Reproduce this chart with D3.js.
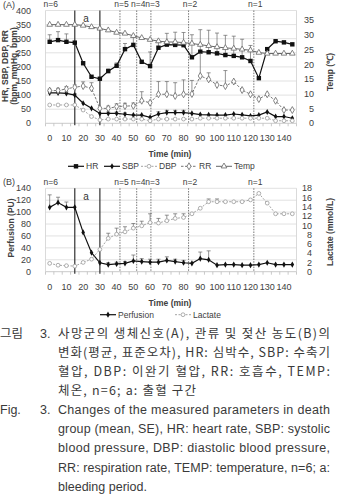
<!DOCTYPE html>
<html>
<head>
<meta charset="utf-8">
<script src="https://cdn.jsdelivr.net/npm/d3@7"></script>
<style>
body { margin: 0; background: #fff; }
svg { display: block; font-family: "Liberation Sans", Arial, sans-serif; }
</style>
</head>
<body>
<svg id="chart" width="338" height="496"></svg>
<script>
// time categories (min)
const times = [0, 5, 10, 15, 20, 25, 30, 35, 40, 45, 50, 55, 60, 65, 70, 75, 80, 85, 90, 95, 100, 105, 110, 115, 120, 125, 130, 135, 140, 145];
const timeTicks = [0, 10, 20, 30, 40, 50, 60, 70, 80, 90, 100, 110, 120, 130, 140];

// panel A
const hr    = [289, 295, 289, 286, 213, 165, 158, 185, 204, 263, 278, 218, 203, 268, 279, 278, 277, 234, 254, 252, 248, 242, 239, 234, 221, 160, 263, 291, 287, 280];
const hrErr = [25, 30, 28, 0, 0, 0, 0, 8, 10, 20, 28, 0, 50, 20, 40, 45, 45, 80, 78, 78, 72, 70, 70, 64, 55, 0, 0, 0, 0, 0];
const sbp    = [108, 108, 106, 100, 71, 53, 35, 35, 35, 32, 29, 29, 21, 33, 38, 38, 38, 35, 31, 30, 29, 29, 33, 30, 26, 29, 40, 24, 24, 18];
const sbpErr = [5, 5, 5, 5, 0, 0, 0, 5, 5, 5, 0, 0, 0, 8, 8, 8, 8, 0, 0, 0, 0, 0, 0, 0, 0, 0, 0, 0, 0, 0];
const dbp = [65, 65, 65, 65, 47, 24, 12, 15, 15, 15, 15, 15, 9, 15, 15, 15, 15, 15, 18, 18, 18, 18, 18, 18, 18, 18, 18, 9, 9, 9];
const rr    = [116, 116, 122, 128, 132, 124, 53, 53, 59, 61, 62, 80, 73, 103, 103, 97, 103, 104, 168, 156, 136, 132, 148, 118, 103, 86, 103, 80, 47, 47];
const rrErr = [5, 8, 8, 8, 15, 20, 0, 8, 10, 10, 10, 32, 0, 45, 45, 47, 51, 48, 80, 23, 0, 55, 0, 0, 0, 0, 0, 0, 0, 0];
const temp = [33.5, 33.5, 33.5, 33.5, 33.2, 32.7, 32.2, 31.6, 30.8, 30.5, 29.7, 29.0, 28.4, 27.9, 27.6, 27.6, 27.4, 27.1, 26.7, 26.3, 25.9, 25.6, 25.4, 25.1, 24.8, 24.0, 23.7, 23.7, 23.7, 23.7];
const leftTicksA = [0, 50, 100, 150, 200, 250, 300, 350, 400];
const rightTicksA = [0, 5, 10, 15, 20, 25, 30, 35];

// panel B
const perfusion    = [108, 116, 108, 108, 66, 32, 15, 12, 13, 14, 18, 17, 16, 16, 19, 17, 15, 14, 22, 20, 11, 12, 12, 11, 11, 12, 15, 12, 12, 12];
const perfusionErr = [21, 9, 9, 0, 0, 0, 0, 3, 3, 3, 10, 5, 5, 5, 6, 4, 4, 0, 11, 15, 0, 0, 0, 0, 0, 0, 0, 0, 0, 0];
const lactate    = [1.8, 1.4, 1.3, 1.2, 2.0, 2.7, 4.8, 7.2, 8.1, 8.6, 9.4, 9.9, 10.6, 10.5, 11.0, 11.5, 11.7, 12.5, 13.7, 15.1, 15.1, 15.1, 15.1, 15.1, 15.5, 16.9, 14.8, 12.5, 12.5, 12.5];
const lactateErr = [0, 0, 0, 0, 0, 0, 0, 1.1, 1.3, 1.1, 1.0, 1.0, 1.9, 1.0, 1.2, 1.0, 0.8, 0, 0, 0.6, 0.6, 0, 0, 0, 0, 0, 0, 0, 0, 0];
const leftTicksB = [0, 20, 40, 60, 80, 100, 120, 140];
const rightTicksB = [0, 2, 4, 6, 8, 10, 12, 14, 16, 18];

// group size changes and bleeding period
const groupTimes = [0, 42, 52, 60.5, 83, 122];
const groupLabels = ["n=6", "n=5", "n=4", "n=3", "n=2", "n=1"];
const bleeding = [15, 30];

// caption
const captionKo = [
  "사망군의 생체신호(A), 관류 및 젖산 농도(B)의",
  "변화(평균, 표준오차), HR: 심박수, SBP: 수축기",
  "혈압, DBP: 이완기 혈압, RR: 호흡수, TEMP:",
  "체온, n=6; a: 출혈 구간"
];
const captionEn = [
  "Changes of the measured parameters in death",
  "group (mean, SE), HR: heart rate, SBP: systolic",
  "blood pressure, DBP: diastolic blood pressure,",
  "RR: respiration rate, TEMP: temperature, n=6; a:",
  "bleeding period."
];

const svg = d3.select("#chart");
const x = d3.scaleLinear().domain([-2.5, 147.5]).range([45.5, 296.5]);

// markers
function drawMarker(g, kind, cx, cy) {
    if (kind === "square") {
        g.append("rect").attr("x", cx - 2.2).attr("y", cy - 2.2).attr("width", 4.4).attr("height", 4.4).attr("fill", "#111");
    } else if (kind === "dot") {
        g.append("path").attr("d", d3.symbol(d3.symbolDiamond, 11)()).attr("transform", `translate(${cx},${cy})`).attr("fill", "#111");
    } else if (kind === "circle") {
        g.append("circle").attr("cx", cx).attr("cy", cy).attr("r", 1.9).attr("fill", "#fff").attr("stroke", "#9a9a9a").attr("stroke-width", 0.8);
    } else if (kind === "diamond") {
        g.append("path").attr("d", d3.symbol(d3.symbolDiamond, 14)()).attr("transform", `translate(${cx},${cy})`)
            .attr("fill", "#fff").attr("stroke", "#666").attr("stroke-width", 0.8);
    } else if (kind === "triangle") {
        g.append("path").attr("d", d3.symbol(d3.symbolTriangle, 14)()).attr("transform", `translate(${cx},${cy})`)
            .attr("fill", "#fff").attr("stroke", "#666").attr("stroke-width", 0.8);
    }
}

function drawPanel(p) {
    const g = svg.append("g");
    const yL = d3.scaleLinear().domain([0, p.leftTicks[p.leftTicks.length - 1]]).range([p.bottom, p.top]);
    const yR = d3.scaleLinear().domain(p.rightDomain).range([p.bottom, p.top]);

    // gridlines
    g.append("g").selectAll("line").data(p.leftTicks).enter().append("line")
        .attr("x1", x.range()[0]).attr("x2", x.range()[1])
        .attr("y1", d => yL(d)).attr("y2", d => yL(d))
        .attr("stroke", d => d === 0 ? "#bdbdbd" : "#d9d9d9").attr("stroke-width", 0.8);
    g.append("line").attr("x1", x.range()[0]).attr("x2", x.range()[0]).attr("y1", p.top).attr("y2", p.bottom).attr("stroke", "#d0d0d0").attr("stroke-width", 0.8);
    g.append("line").attr("x1", x.range()[1]).attr("x2", x.range()[1]).attr("y1", p.top).attr("y2", p.bottom).attr("stroke", "#d0d0d0").attr("stroke-width", 0.8);

    // category tick marks
    g.append("g").selectAll("line").data(times.concat([150])).enter().append("line")
        .attr("x1", d => x(d - 2.5)).attr("x2", d => x(d - 2.5))
        .attr("y1", p.bottom).attr("y2", p.bottom + 3)
        .attr("stroke", "#bdbdbd").attr("stroke-width", 0.8);

    // left ticks
    g.append("g").selectAll("text").data(p.leftTicks).enter().append("text")
        .attr("x", 31).attr("y", d => yL(d)).attr("dy", "0.35em")
        .attr("text-anchor", "end").attr("font-size", 9).attr("fill", "#404040")
        .text(d => d);
    // right ticks
    g.append("g").selectAll("text").data(p.rightTicks).enter().append("text")
        .attr("x", p.rightTickX).attr("y", d => yR(d)).attr("dy", "0.35em")
        .attr("text-anchor", "end").attr("font-size", 9).attr("fill", "#404040")
        .text(d => d);
    // x ticks
    g.append("g").selectAll("text").data(timeTicks).enter().append("text")
        .attr("x", d => x(d)).attr("y", p.bottom + 15).attr("dy", "0.35em")
        .attr("text-anchor", "middle").attr("font-size", 9).attr("fill", "#404040")
        .text(d => d);

    // titles
    g.append("text").attr("x", 170).attr("y", p.bottom + 31).attr("dy", "0.35em")
        .attr("text-anchor", "middle").attr("font-size", 8.5).attr("font-weight", "bold").attr("fill", "#404040")
        .text("Time (min)");
    p.leftTitle.forEach((t, i) => {
        g.append("text").attr("transform", `translate(${p.leftTitleX[i]},${p.leftTitleY}) rotate(-90)`).attr("dy", "0.35em")
            .attr("text-anchor", "middle").attr("font-size", 8.5).attr("font-weight", "bold").attr("fill", "#404040")
            .text(t);
    });
    g.append("text").attr("transform", `translate(330,${p.rightTitleY}) rotate(-90)`).attr("dy", "0.35em")
        .attr("text-anchor", "middle").attr("font-size", 8.5).attr("font-weight", "bold").attr("fill", "#404040")
        .text(p.rightTitle);
    g.append("text").attr("x", 3).attr("y", p.top - 6).attr("dy", "0.35em")
        .attr("font-size", 9).attr("fill", "#404040").text(p.label);

    // bleeding period
    g.append("g").selectAll("line").data(bleeding).enter().append("line")
        .attr("x1", d => x(d)).attr("x2", d => x(d))
        .attr("y1", p.top).attr("y2", p.bottom + 2)
        .attr("stroke", "#333").attr("stroke-width", 1.2);
    g.append("text").attr("x", 86).attr("y", p.top + 8).attr("dy", "0.35em")
        .attr("text-anchor", "middle").attr("font-size", 10).attr("fill", "#333").text("a");

    // group size lines and labels
    g.append("g").selectAll("line").data(groupTimes.slice(1)).enter().append("line")
        .attr("x1", d => x(d)).attr("x2", d => x(d))
        .attr("y1", p.top).attr("y2", p.bottom)
        .attr("stroke", "#555").attr("stroke-width", 0.8).attr("stroke-dasharray", "1.5,1.2");
    g.append("g").selectAll("text").data(groupTimes).enter().append("text")
        .attr("x", (d, i) => i === 0 ? x(d) + 1 : x(d) + 1.5).attr("y", p.top - 6).attr("dy", "0.35em")
        .attr("text-anchor", "middle").attr("font-size", 8.5).attr("fill", "#404040")
        .text((d, i) => groupLabels[i]);

    // series
    p.series.forEach(s => {
        const y = s.axis === "left" ? yL : yR;
        const pts = times.map((t, i) => [x(t), y(s.values[i])]);
        if (s.errs) {
            const eg = g.append("g").attr("stroke", "#666").attr("stroke-width", 0.7);
            times.forEach((t, i) => {
                if (!s.errs[i]) return;
                const top = y(s.values[i] + s.errs[i]);
                eg.append("line").attr("x1", x(t)).attr("x2", x(t)).attr("y1", y(s.values[i])).attr("y2", top);
                eg.append("line").attr("x1", x(t) - 2).attr("x2", x(t) + 2).attr("y1", top).attr("y2", top);
            });
        }
        g.append("path").attr("d", d3.line()(pts))
            .attr("fill", "none").attr("stroke", s.color).attr("stroke-width", s.width)
            .attr("stroke-dasharray", s.dash || null);
        const mg = g.append("g");
        pts.forEach(pt => drawMarker(mg, s.marker, pt[0], pt[1]));
    });

    // legend
    p.series.forEach((s, i) => {
        const lx = p.legendX[i];
        const ly = p.bottom + 43;
        g.append("line").attr("x1", lx).attr("x2", lx + 16).attr("y1", ly).attr("y2", ly)
            .attr("stroke", s.color).attr("stroke-width", s.width).attr("stroke-dasharray", s.dash || null);
        drawMarker(g, s.marker, lx + 8, ly);
        g.append("text").attr("x", lx + 18).attr("y", ly).attr("dy", "0.35em")
            .attr("font-size", 8.5).attr("fill", "#404040").text(s.name);
    });
}

drawPanel({
    label: "(A)", top: 10.5, bottom: 123.3,
    leftTicks: leftTicksA, rightTicks: rightTicksA, rightDomain: [0, 38.3], rightTickX: 314,
    leftTitle: ["HR, SBP, DBP, RR", "(bpm, mmHg, bpm)"], leftTitleX: [5, 14.5], leftTitleY: 66,
    rightTitle: "Temp (℃)", rightTitleY: 72,
    legendX: [68, 104, 141, 181, 216],
    series: [
        { name: "HR", values: hr, errs: hrErr, axis: "left", color: "#111", width: 1.2, marker: "square" },
        { name: "SBP", values: sbp, errs: sbpErr, axis: "left", color: "#111", width: 1.2, marker: "dot" },
        { name: "DBP", values: dbp, axis: "left", color: "#9a9a9a", width: 0.9, dash: "2,1.5", marker: "circle" },
        { name: "RR", values: rr, errs: rrErr, axis: "left", color: "#666", width: 0.9, dash: "2.5,1.5", marker: "diamond" },
        { name: "Temp", values: temp, axis: "right", color: "#666", width: 1, marker: "triangle" }
    ]
});

drawPanel({
    label: "(B)", top: 188.3, bottom: 271.7,
    leftTicks: leftTicksB, rightTicks: rightTicksB, rightDomain: [0, 18], rightTickX: 312,
    leftTitle: ["Perfusion (PU)"], leftTitleX: [11], leftTitleY: 228,
    rightTitle: "Lactate (mmol/L)", rightTitleY: 232,
    legendX: [100, 175],
    series: [
        { name: "Perfusion", values: perfusion, errs: perfusionErr, axis: "left", color: "#111", width: 1.2, marker: "dot" },
        { name: "Lactate", values: lactate, errs: lactateErr, axis: "right", color: "#9a9a9a", width: 0.9, dash: "2,1.5", marker: "circle" }
    ]
});

// caption
const cap = svg.append("g").attr("fill", "#3a3a3a").attr("font-size", 12.5);
const capTop = 333.5;
const lineGap = 19.1;
cap.append("text").attr("x", 0).attr("y", capTop).attr("dy", "0.35em")
    .attr("font-family", "'Noto Sans CJK KR', sans-serif").text("그림");
cap.append("text").attr("x", 40).attr("y", capTop).attr("dy", "0.35em").text("3.");
captionKo.forEach((t, i) => {
    const tx = cap.append("text").attr("x", 58).attr("y", capTop + i * lineGap).attr("dy", "0.35em")
        .attr("font-family", "'Noto Sans CJK KR', sans-serif").text(t);
    // justified lines; the last one keeps its wide word spacing
    tx.attr("textLength", i < captionKo.length - 1 ? 272 : 138).attr("lengthAdjust", "spacing");
});
const enTop = capTop + captionKo.length * lineGap;
cap.append("text").attr("x", 0).attr("y", enTop).attr("dy", "0.35em").text("Fig.");
cap.append("text").attr("x", 40).attr("y", enTop).attr("dy", "0.35em").text("3.");
captionEn.forEach((t, i) => {
    const tx = cap.append("text").attr("x", 58).attr("y", enTop + i * lineGap).attr("dy", "0.35em").text(t);
    if (i < captionEn.length - 1) tx.attr("textLength", 272).attr("lengthAdjust", "spacing");
});
</script>
</body>
</html>
